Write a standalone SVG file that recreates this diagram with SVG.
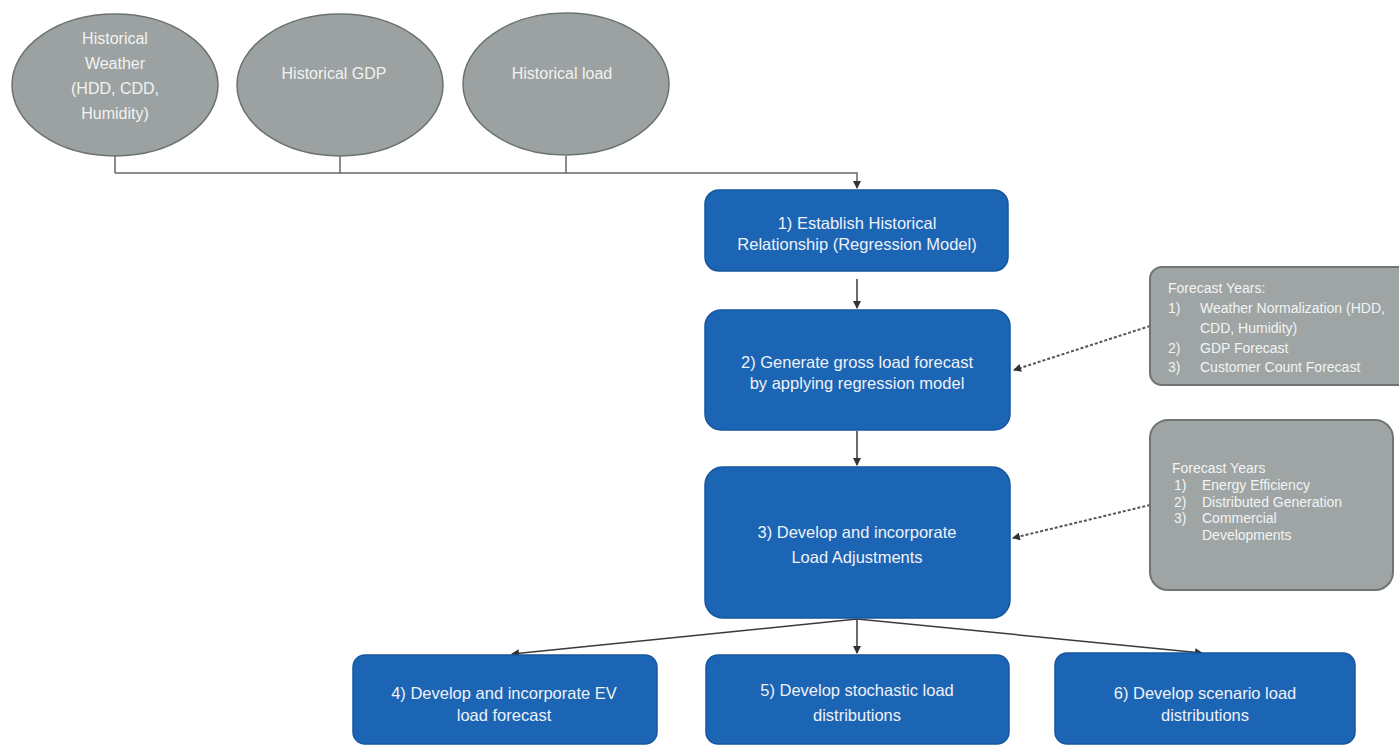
<svg xmlns="http://www.w3.org/2000/svg" width="1399" height="746" viewBox="0 0 1399 746">
<style>
.ell{fill:#9ca2a1;stroke:#6c7272;stroke-width:1.5}
.box{fill:#1c64b4;stroke:#1556a0;stroke-width:1.5}
.side{fill:#9fa5a5;stroke:#6f7575;stroke-width:2}
.t{font-family:"Liberation Sans",Arial,sans-serif;font-size:16.5px;fill:#eef2f8;text-anchor:middle}
.et{font-family:"Liberation Sans",Arial,sans-serif;font-size:16px;fill:#f2f2f2;text-anchor:middle}
.st{font-family:"Liberation Sans",Arial,sans-serif;font-size:14px;fill:#f2f4f4}
.c{fill:none;stroke:#3a3a3a;stroke-width:1.5}
.ct{fill:none;stroke:#666;stroke-width:1.5}
.d{fill:none;stroke:#555;stroke-width:2;stroke-dasharray:3 2}
</style>
<defs>
<marker id="ah" markerWidth="8" markerHeight="8" refX="7" refY="4" orient="auto" markerUnits="userSpaceOnUse">
<path d="M0,0 L8,4 L0,8 Z" fill="#333"/>
</marker>
</defs>
<rect width="1399" height="746" fill="#ffffff"/>
<g id="connectors">
<path class="ct" d="M115,156 V173 M340,156 V173 M566,156 V173 M115,173 H857 V188" marker-end="url(#ah)"/>
<path class="c" d="M857,279 V308" marker-end="url(#ah)"/>
<path class="c" d="M857,431 V465" marker-end="url(#ah)"/>
<path class="d" d="M1150,326 L1014,370" marker-end="url(#ah)"/>
<path class="d" d="M1150,505 L1013,538" marker-end="url(#ah)"/>
<path class="c" d="M857,619 L512,654" marker-end="url(#ah)"/>
<path class="c" d="M857,619 V653" marker-end="url(#ah)"/>
<path class="c" d="M857,619 L1202,653" marker-end="url(#ah)"/>
</g>
<g id="n-weather">
<ellipse class="ell" cx="115" cy="85" rx="103" ry="71"/>
<text class="et" x="115" y="44">Historical</text>
<text class="et" x="115" y="69">Weather</text>
<text class="et" x="115" y="94">(HDD, CDD,</text>
<text class="et" x="115" y="119">Humidity)</text>
</g>
<g id="n-gdp">
<ellipse class="ell" cx="340" cy="85" rx="103" ry="71"/>
<text class="et" x="334" y="79">Historical GDP</text>
</g>
<g id="n-load">
<ellipse class="ell" cx="566" cy="84" rx="103" ry="71"/>
<text class="et" x="562" y="79">Historical load</text>
</g>
<g id="n1">
<rect class="box" x="705" y="190" width="303" height="81" rx="14"/>
<text class="t" x="857" y="229">1) Establish Historical</text>
<text class="t" x="857" y="250">Relationship (Regression Model)</text>
</g>
<g id="n2">
<rect class="box" x="705" y="310" width="305" height="120" rx="16"/>
<text class="t" x="857" y="368">2) Generate gross load forecast</text>
<text class="t" x="857" y="389">by applying regression model</text>
</g>
<g id="n3">
<rect class="box" x="705" y="467" width="305" height="151" rx="18"/>
<text class="t" x="857" y="538">3) Develop and incorporate</text>
<text class="t" x="857" y="563">Load Adjustments</text>
</g>
<g id="nA">
<rect class="side" x="1150" y="267" width="262" height="118" rx="12"/>
<text class="st" x="1168" y="293">Forecast Years:</text>
<text class="st" x="1168" y="313">1)</text>
<text class="st" x="1200" y="313">Weather Normalization (HDD,</text>
<text class="st" x="1200" y="333">CDD, Humidity)</text>
<text class="st" x="1168" y="353">2)</text>
<text class="st" x="1200" y="353">GDP Forecast</text>
<text class="st" x="1168" y="372">3)</text>
<text class="st" x="1200" y="372">Customer Count Forecast</text>
</g>
<g id="nB">
<rect class="side" x="1150" y="420" width="243" height="170" rx="18"/>
<text class="st" x="1172" y="473">Forecast Years</text>
<text class="st" x="1174" y="490">1)</text>
<text class="st" x="1202" y="490">Energy Efficiency</text>
<text class="st" x="1174" y="507">2)</text>
<text class="st" x="1202" y="507">Distributed Generation</text>
<text class="st" x="1174" y="523">3)</text>
<text class="st" x="1202" y="523">Commercial</text>
<text class="st" x="1202" y="540">Developments</text>
</g>
<g id="n4">
<rect class="box" x="353" y="655" width="304" height="89" rx="12"/>
<text class="t" x="504" y="699">4) Develop and incorporate EV</text>
<text class="t" x="504" y="721">load forecast</text>
</g>
<g id="n5">
<rect class="box" x="706" y="655" width="303" height="89" rx="12"/>
<text class="t" x="857" y="696">5) Develop stochastic load</text>
<text class="t" x="857" y="721">distributions</text>
</g>
<g id="n6">
<rect class="box" x="1055" y="653" width="300" height="91" rx="12"/>
<text class="t" x="1205" y="699">6) Develop scenario load</text>
<text class="t" x="1205" y="721">distributions</text>
</g>
</svg>
